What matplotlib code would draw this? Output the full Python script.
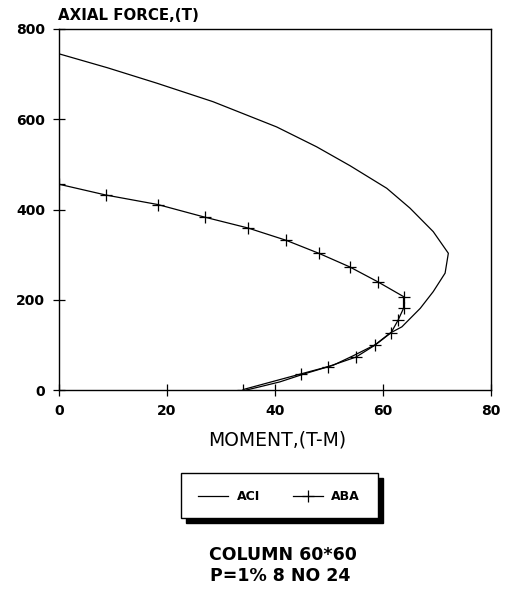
import matplotlib
matplotlib.use("Agg")
import matplotlib.pyplot as plt
from matplotlib.patches import Rectangle

# ACI interaction curve (moment T-M, axial force T)
aci_moment = [0, 9.0, 18.1, 28.5, 40.3, 47.7, 53.9, 60.7, 65.0, 69.3, 72.1, 71.5, 69.3, 66.9, 63.5, 61.3, 58.5, 54.5, 50.8, 45.5, 40.9, 37.5, 34.7]
aci_force = [745, 714, 680, 639, 583, 539, 497, 447, 403, 351, 303, 259, 218, 181, 140, 126, 100, 76, 55, 36, 18, 8, 0]

# ABA interaction curve
aba_moment = [0, 8.7, 18.3, 27.0, 35.0, 42.0, 48.1, 53.8, 59.0, 63.8, 63.8, 62.8, 61.5, 58.6, 55.0, 49.9, 44.9, 34.1]
aba_force = [456, 432, 411, 383, 359, 332, 303, 273, 240, 207, 181, 155, 127, 100, 73, 52, 36, 1]

x_ticks = [0, 20, 40, 60, 80]
y_ticks = [0, 200, 400, 600, 800]

plt.rcParams['font.family'] = ['DejaVu Sans']

W, H = 505, 589
fig = plt.figure(figsize=(W / 100, H / 100), dpi=100)
ax = fig.add_axes([59 / W, 1 - 390 / H, (491 - 59) / W, (390 - 29) / H])

l1, = ax.plot(aci_moment, aci_force, color='black', lw=0.9, label='ACI')
l2, = ax.plot(aba_moment, aba_force, color='black', lw=0.9, marker='+', ms=8, mew=0.9, label='ABA')

ax.set_xlim(0, 80)
ax.set_ylim(0, 800)
ax.set_xticks(x_ticks)
ax.set_yticks(y_ticks)
ax.set_xticklabels([str(v) for v in x_ticks], fontsize=10, fontweight='bold')
ax.set_yticklabels([str(v) for v in y_ticks], fontsize=10, fontweight='bold')
ax.tick_params(direction='inout', length=8, width=0.9, pad=6)
for s in ax.spines.values():
    s.set_linewidth(1.0)

fig.text(58 / W, 1 - 16 / H, 'AXIAL FORCE,(T)', fontsize=10.8, fontweight='bold', ha='left', va='center')
fig.text(277 / W, 1 - 440 / H, 'MOMENT,(T-M)', fontsize=13.5, ha='center', va='center')

# legend box with drop shadow
bx0, by0, bx1, by1 = 181, 473, 378, 518
sh = 5
fig.patches.append(Rectangle(((bx0 + sh) / W, 1 - (by1 + sh) / H), (bx1 - bx0) / W, (by1 - by0) / H,
                             transform=fig.transFigure, facecolor='black', edgecolor='black', zorder=1))
fig.patches.append(Rectangle((bx0 / W, 1 - by1 / H), (bx1 - bx0) / W, (by1 - by0) / H,
                             transform=fig.transFigure, facecolor='white', edgecolor='black',
                             lw=1.0, zorder=2))
leg = fig.legend(handles=[l1, l2], loc='center', bbox_to_anchor=(279 / W, 1 - 497 / H),
                 ncol=2, frameon=False, handlelength=2.4, columnspacing=2.6,
                 handletextpad=0.7, prop={'weight': 'bold', 'size': 9})
leg.set_zorder(3)

fig.text(283 / W, 1 - 555 / H, 'COLUMN 60*60', fontsize=12.5, fontweight='bold', ha='center', va='center')
fig.text(280 / W, 1 - 576 / H, 'P=1% 8 NO 24', fontsize=12.5, fontweight='bold', ha='center', va='center')

fig.savefig('out.png', dpi=100)
